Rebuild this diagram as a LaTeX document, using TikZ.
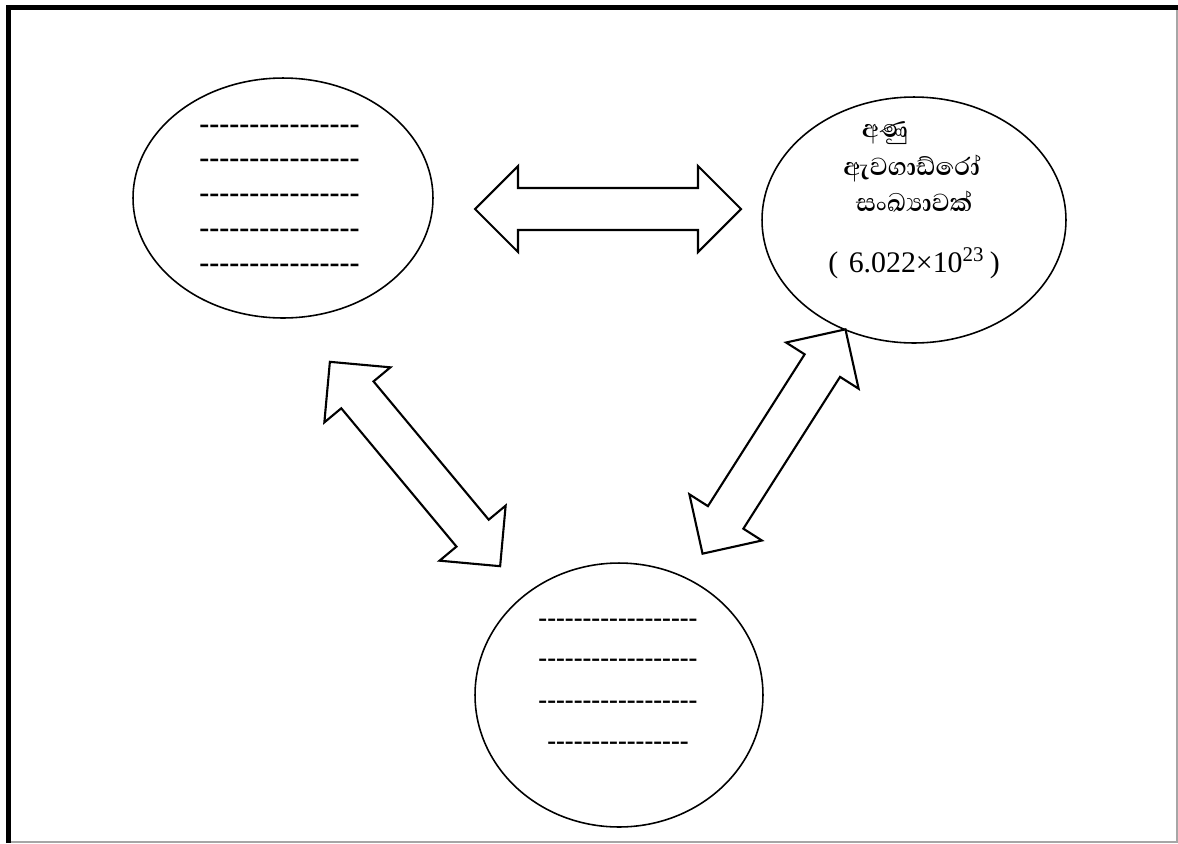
\documentclass[tikz,border=0pt]{standalone}
\usepackage{fontspec}
\setmainfont{Liberation Serif}
\newfontfamily\sinhala[Script=Sinhala]{Abhaya Libre}
\usetikzlibrary{shapes.geometric}
\newcommand\dashrow[1]{\foreach\i in {1,...,#1}{\mbox{-}}}
\tikzset{
  bubble/.style={ellipse, draw, line width=0.9pt, inner sep=0pt},
  blockarrow/.style={draw, line width=1.2pt, line join=miter, fill=white},
  dashA/.style={inner sep=0pt, font=\bfseries\fontsize{17.1}{20}\selectfont},
  dashB/.style={inner sep=0pt, font=\bfseries\fontsize{15.1}{18}\selectfont},
  sinh/.style={inner sep=0pt, font=\sinhala\bfseries\fontsize{18}{21}\selectfont},
  numtext/.style={inner sep=0pt, font=\fontsize{17}{20}\selectfont},
  darrow/.pic={
    \draw[blockarrow] (-133,0) -- (-90,43) -- (-90,21) -- (90,21) -- (90,43)
      -- (133,0) -- (90,-43) -- (90,-21) -- (-90,-21) -- (-90,-43) -- cycle;
  }
}
\begin{document}
\begin{tikzpicture}[x=0.02cm,y=-0.02cm]
\useasboundingbox (0,0) rectangle (1178,843);
% frame
\draw[gray!70, line width=0.6pt] (1177,7.5) -- (1177,842) -- (8,842);
\draw[black, line width=2.8pt] (8.3,843) -- (8.3,7.5) -- (1177.5,7.5);

% ellipses
\node[bubble, minimum width=6cm, minimum height=4.8cm] (L) at (283,198) {};
\node[bubble, minimum width=6.08cm, minimum height=4.92cm] (R) at (914,220) {};
\node[bubble, minimum width=5.76cm, minimum height=5.28cm] (B) at (619,695) {};

% block arrows
\pic at (608,209) {darrow};
\pic[rotate=-50.2] at (415,464) {darrow};
\pic[rotate=57.5] at (774,441.5) {darrow};

% left ellipse lines
\foreach \y [count=\k] in {129,163,198,233,268}
  \node[dashA] (l\k) at (279.5,\y) {\dashrow{16}};

% bottom ellipse lines
\foreach \y [count=\k] in {623,663,705}
  \node[dashB] (b\k) at (618,\y) {\dashrow{18}};
\node[dashB] (b4) at (618,746) {\dashrow{16}};

% right ellipse text
\node[sinh] (r1) at (885,133) {අණු};
\node[sinh] (r2) at (912,168) {ඇවගාඩ්රෝ};
\node[sinh] (r3) at (914,202) {සංඛ්‍යාවක්};
\node[numtext] (r4) at (914,263) {(\hspace{6pt}6.022×10\textsuperscript{23}\hspace{3pt})};
\end{tikzpicture}
\end{document}
